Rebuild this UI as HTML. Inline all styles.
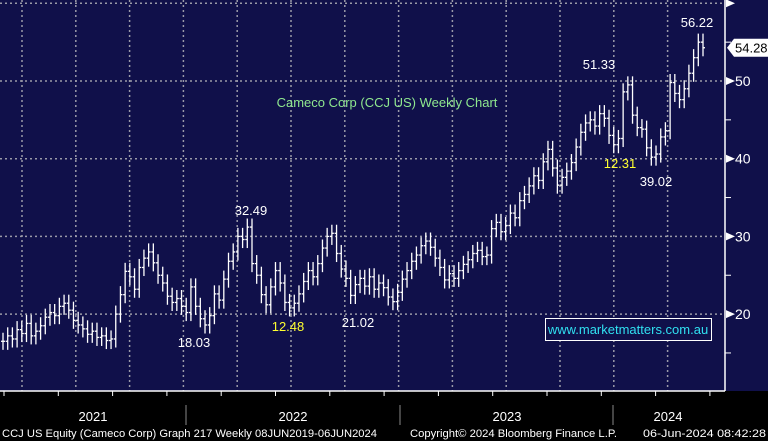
<!DOCTYPE html>
<html><head><meta charset="utf-8">
<style>
body{margin:0;background:#000;}
svg{display:block;font-family:"Liberation Sans",sans-serif;}
</style></head>
<body>
<svg id="chart" width="768" height="441" viewBox="0 0 768 441">
<rect x="0" y="0" width="768" height="391" fill="#10104a"/>
<g id="grid"></g>
<g id="bars"></g>
<g id="axis"></g>
<g id="xaxis"></g>
<text x="387" y="107" fill="#8fe88f" font-size="13" text-anchor="middle">Cameco Corp  (CCJ US) Weekly Chart</text>
<text x="697" y="27" fill="#ffffff" font-size="13" text-anchor="middle">56.22</text>
<text x="599" y="69" fill="#ffffff" font-size="13" text-anchor="middle">51.33</text>
<text x="620" y="168" fill="#ffff30" font-size="13" text-anchor="middle">12.31</text>
<text x="656" y="186" fill="#ffffff" font-size="13" text-anchor="middle">39.02</text>
<text x="251" y="215" fill="#ffffff" font-size="13" text-anchor="middle">32.49</text>
<text x="194" y="347" fill="#ffffff" font-size="13" text-anchor="middle">18.03</text>
<text x="288" y="331" fill="#ffff30" font-size="13" text-anchor="middle">12.48</text>
<text x="358" y="327" fill="#ffffff" font-size="13" text-anchor="middle">21.02</text>
<rect x="545.5" y="318.5" width="166" height="22" fill="#10104a" stroke="#ffffff"/>
<text x="628" y="334" fill="#30e0f0" font-size="13" text-anchor="middle">www.marketmatters.com.au</text>
<g font-size="11" fill="#ffffff">
<text x="2" y="437" textLength="375" lengthAdjust="spacingAndGlyphs">CCJ US Equity (Cameco Corp) Graph 217  Weekly 08JUN2019-06JUN2024</text>
<text x="410" y="437" textLength="207" lengthAdjust="spacingAndGlyphs">Copyright© 2024 Bloomberg Finance L.P.</text>
<text x="643" y="437" textLength="123" lengthAdjust="spacingAndGlyphs">06-Jun-2024 08:42:28</text>
</g>
</svg>
<script>
const closes=[16.5,17.2,16.8,18,17.5,18.8,17.2,17.8,18.5,19.6,
20.2,19.8,21,21.4,20.5,19.2,18.6,18.1,17.4,17.8,
17,17.2,16.6,16.8,20,22.5,25.5,24.8,23.2,26,
27.2,28,26.6,25,24,22.3,21.5,22,21,20.2,
23.5,21,19.4,18.6,19.8,22.6,21.8,24.5,26.8,28,
30,29.6,31.2,26.5,25,22.5,21.2,23.5,25.6,24,
21.5,20.8,21.4,22.6,24.2,25.6,24.8,26.5,28.5,30,
30.4,27.8,25.8,24.6,22.4,23.8,24.6,23.6,24.8,23.2,
24,23.4,22.2,21.6,22.8,24.5,25.6,26.8,27.6,28.8,
29.4,28.6,27.2,26,24.4,25.2,24.6,25.6,26.4,27,
27.8,28.2,27.4,27.6,31,31.8,30.6,31.4,33,32.4,
34.6,35.4,36.5,37.8,37.2,39.6,41.2,38.8,36.6,37.6,
38.4,39.5,41.5,43.4,44.6,45,44.2,45.8,45.2,43,
41.8,42.6,48.6,49.5,45.6,44,43.8,41.4,40.2,40.6,
42.8,43.6,49.8,48.4,47.6,49,51,53,55,54.28];
const yTicks=[20,30,40,50,60];
const yMinor=[15,25,35,45,55];
const years=["2021","2022","2023","2024"];
const yearCenters=[93,293,507,668];
const yearSeps=[186,400,613];
const lastPrice=54.28;
const NS="http://www.w3.org/2000/svg";
function y(v){return 81+(50-v)*7.77;}
function x(i){return 3+i*(700/(closes.length-1));}
function mk(t,a,p){const e=document.createElementNS(NS,t);for(const k in a)e.setAttribute(k,a[k]);p.appendChild(e);return e;}
const grid=document.getElementById('grid');
const bars=document.getElementById('bars');
const axis=document.getElementById('axis');
const xa=document.getElementById('xaxis');
yTicks.forEach(v=>{const l=mk('line',{x1:0,x2:722,y1:y(v),y2:y(v),stroke:'#9a9aa8','stroke-width':1.5,'stroke-dasharray':'2 3'},grid);

});
for(let k=0;k<13;k++){const gx=22+k*53.8;const l=mk('line',{x1:gx,x2:gx,y1:0,y2:391,stroke:'#9a9aa8','stroke-width':1.5,'stroke-dasharray':'2 3'},grid);

}
closes.forEach((c,i)=>{const o=i>0?closes[i-1]:c;const hi=Math.max(o,c)+1.1,lo=Math.min(o,c)-1.1;const g=mk('g',{stroke:'#fff','stroke-width':1.3},bars);


const X=x(i);mk('line',{x1:X,x2:X,y1:y(hi),y2:y(lo)},g);mk('line',{x1:X-2,x2:X,y1:y(o),y2:y(o)},g);mk('line',{x1:X,x2:X+2,y1:y(c),y2:y(c)},g);});
mk('line',{x1:725,x2:725,y1:0,y2:391,stroke:'#fff','stroke-width':1.5},axis);
yTicks.forEach(v=>{const Y=y(v);mk('polygon',{points:`726,${Y-4} 735,${Y} 726,${Y+4}`,fill:'#fff'},axis);
if(v<60){const t=mk('text',{x:735,y:Y+5,fill:'#fff','font-size':14},axis);t.textContent=v;

}});
yMinor.forEach(v=>{mk('line',{x1:725,x2:731,y1:y(v),y2:y(v),stroke:'#fff'},axis);});
const ly=y(lastPrice);
const tag=mk('polygon',{points:`727,${ly} 734,${ly-9} 768,${ly-9} 768,${ly+9} 734,${ly+9}`,fill:'#fff'},axis);


const tt=mk('text',{x:735,y:ly+5,fill:'#000','font-size':13},axis);tt.textContent=lastPrice.toFixed(2);
mk('line',{x1:0,x2:725,y1:391,y2:391,stroke:'#fff','stroke-width':1.5},xa);
for(let k=0;k<14;k++){const tx=4+k*54.3;mk('line',{x1:tx,x2:tx,y1:391,y2:396,stroke:'#fff'},xa);}
yearSeps.forEach(s=>{mk('line',{x1:s,x2:s,y1:405,y2:425,stroke:'#888'},xa);});
years.forEach((yr,i)=>{const t=mk('text',{x:yearCenters[i],y:421,fill:'#fff','font-size':13,'text-anchor':'middle'},xa);t.textContent=yr;

});
</script>
</body></html>
